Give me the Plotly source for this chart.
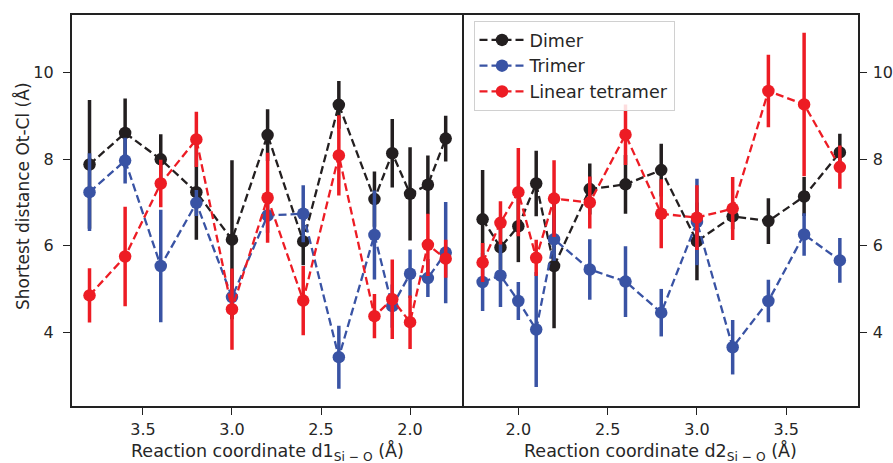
import plotly.graph_objects as go

# ---- data ----
x_left = [3.8, 3.6, 3.4, 3.2, 3.0, 2.8, 2.6, 2.4, 2.2, 2.1, 2.0, 1.9, 1.8]
x_right = [1.8, 1.9, 2.0, 2.1, 2.2, 2.4, 2.6, 2.8, 3.0, 3.2, 3.4, 3.6, 3.8]

dimer_left = [7.88, 8.61, 8.00, 7.24, 6.14, 8.56, 6.10, 9.26, 7.08, 8.14, 7.20, 7.41, 8.48]
dimer_left_err = [1.49, 0.80, 0.58, 1.10, 1.84, 0.60, 0.55, 0.55, 0.64, 0.79, 1.08, 0.68, 0.53]
trimer_left = [7.24, 7.97, 5.53, 6.99, 4.81, 6.70, 6.74, 3.42, 6.25, 4.60, 5.35, 5.25, 5.84]
trimer_left_err = [0.90, 0.53, 1.30, 0.30, 0.30, 0.40, 0.66, 0.73, 1.03, 0.50, 0.56, 0.44, 1.17]
tetra_left = [4.85, 5.75, 7.44, 8.46, 4.53, 7.11, 4.73, 8.09, 4.37, 4.76, 4.23, 6.02, 5.70]
tetra_left_err = [0.63, 1.15, 0.55, 0.64, 0.94, 1.04, 0.80, 0.93, 0.51, 0.92, 0.62, 0.72, 0.44]

dimer_right = [6.61, 5.96, 6.45, 7.44, 5.53, 7.31, 7.42, 7.75, 6.10, 6.68, 6.57, 7.14, 8.16]
dimer_right_err = [1.14, 0.50, 0.83, 0.76, 1.44, 0.59, 0.68, 0.61, 0.90, 0.30, 0.53, 0.45, 0.43]
trimer_right = [5.16, 5.31, 4.72, 4.06, 6.15, 5.45, 5.17, 4.45, 6.55, 3.65, 4.72, 6.26, 5.66]
trimer_right_err = [0.67, 0.73, 0.44, 1.33, 0.50, 0.70, 0.82, 0.55, 1.00, 0.63, 0.49, 0.49, 0.52]
tetra_right = [5.61, 6.53, 7.24, 5.72, 7.09, 7.00, 8.57, 6.74, 6.65, 6.86, 9.58, 9.27, 7.82]
tetra_right_err = [0.45, 0.50, 1.02, 0.42, 0.89, 0.60, 0.70, 0.80, 0.75, 0.73, 0.84, 1.66, 0.50]

series_names = ["Dimer", "Trimer", "Linear tetramer"]
colors = ["#231f20", "#3953a4", "#ed1c24"]

x_ticks = [2.0, 2.5, 3.0, 3.5]
x_tick_text = ["2.0", "2.5", "3.0", "3.5"]
y_ticks = [4, 6, 8, 10]

W, H = 893, 463
MT, MB = 15, 57
PH = H - MT - MB  # plot height in px


def py(pix):
    """pixel row -> paper y"""
    return (H - MB - pix) / PH


fig = go.Figure()

left_sets = [(dimer_left, dimer_left_err), (trimer_left, trimer_left_err), (tetra_left, tetra_left_err)]
right_sets = [(dimer_right, dimer_right_err), (trimer_right, trimer_right_err), (tetra_right, tetra_right_err)]

line_kw = dict(width=2.3, dash="8px,4px")
for i, (name, c) in enumerate(zip(series_names, colors)):
    y, e = left_sets[i]
    fig.add_trace(go.Scatter(
        x=x_left, y=y, name=name, mode="lines+markers",
        line=dict(color=c, **line_kw),
        marker=dict(color=c, size=12.5),
        error_y=dict(type="data", array=e, visible=True, color=c, thickness=3.5, width=0),
        xaxis="x", yaxis="y", showlegend=False))
for i, (name, c) in enumerate(zip(series_names, colors)):
    y, e = right_sets[i]
    fig.add_trace(go.Scatter(
        x=x_right, y=y, name=name, mode="lines+markers",
        line=dict(color=c, **line_kw),
        marker=dict(color=c, size=12.5),
        error_y=dict(type="data", array=e, visible=True, color=c, thickness=3.5, width=0),
        xaxis="x2", yaxis="y2", showlegend=True))

font_family = "DejaVu Sans"
txt_color = "#262626"
axis_common = dict(showline=True, linecolor="#222", linewidth=1.6,
                   ticks="outside", ticklen=7, tickwidth=1.4, tickcolor="#222",
                   showgrid=False, zeroline=False, automargin=False,
                   tickfont=dict(family=font_family, size=16, color=txt_color))

fig.update_layout(
    width=W, height=H,
    margin=dict(l=0, r=0, t=MT, b=MB, pad=0),
    paper_bgcolor="white", plot_bgcolor="white",
    font=dict(family=font_family, color=txt_color),
    xaxis=dict(domain=[71.7 / W, 463.5 / W], range=[3.9, 1.70], tickvals=x_ticks, ticktext=x_tick_text,
               anchor="y", ticklabelstandoff=1, mirror=True, **axis_common),
    xaxis2=dict(domain=[463.5 / W, 857.7 / W], range=[1.693, 3.9], tickvals=x_ticks, ticktext=x_tick_text,
                anchor="y2", ticklabelstandoff=1, mirror=True, **axis_common),
    yaxis=dict(domain=[0, 1], range=[2.29, 11.34], tickvals=y_ticks, anchor="x",
               ticklabelstandoff=6, mirror=False, **axis_common),
    yaxis2=dict(domain=[0, 1], range=[2.29, 11.34], tickvals=y_ticks, anchor="x2", side="right",
                ticklabelstandoff=3, mirror=True, **axis_common),
    legend=dict(x=473.5 / W, y=py(21), xanchor="left", yanchor="top",
                bgcolor="rgba(255,255,255,0.85)", bordercolor="#d0d0d0", borderwidth=1,
                font=dict(family=font_family, size=17.5, color=txt_color),
                itemwidth=45, tracegroupgap=0),
    annotations=[
        dict(text="Reaction coordinate d1<sub>Si − O</sub> (Å)", xref="paper", yref="paper",
             x=(71.7 + 463.5) / 2 / W, y=py(452), xanchor="center", yanchor="middle",
             showarrow=False, font=dict(family=font_family, size=17.5, color=txt_color)),
        dict(text="Reaction coordinate d2<sub>Si − O</sub> (Å)", xref="paper", yref="paper",
             x=(463.5 + 857.7) / 2 / W, y=py(452), xanchor="center", yanchor="middle",
             showarrow=False, font=dict(family=font_family, size=17.5, color=txt_color)),
        dict(text="Shortest distance Ot-Cl (Å)", xref="paper", yref="paper",
             x=22 / W, y=py(196), xanchor="center", yanchor="middle", textangle=-90,
             showarrow=False, font=dict(family=font_family, size=17, color=txt_color)),
    ],
)

fig.write_html("out.html", config={"displayModeBar": False},
               post_script="document.body.style.margin='0';document.body.style.overflow='hidden';")
